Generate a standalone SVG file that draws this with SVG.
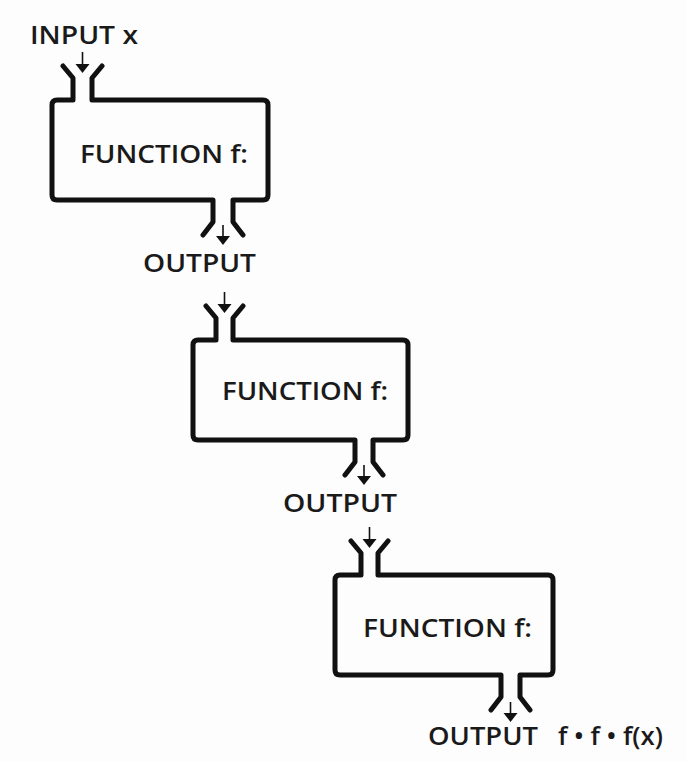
<svg xmlns="http://www.w3.org/2000/svg" width="687" height="762" viewBox="0 0 687 762">
<style>
.box{fill:none;stroke:#111;stroke-width:5;stroke-linejoin:round;stroke-linecap:round}
.shaft{stroke:#111;stroke-width:1.6;fill:none}
.head{fill:#111}
.t{font-family:"Open Sans","Noto Sans","DejaVu Sans",sans-serif;font-weight:600;fill:#1a1a1a;font-size:26px}
</style>
<rect width="687" height="762" fill="#fdfdfd"/>
<g id="input">
<text class="t" x="30" y="44" textLength="108" lengthAdjust="spacingAndGlyphs">INPUT x</text>
</g>
<g id="f1">
<path class="box" d="M63,66 L73,78 L73,100 H57 Q52,100 52,105 V195 Q52,200 57,200 H213 V222 L203,235 M243,235 L233,222 V200 H263 Q268,200 268,195 V105 Q268,100 263,100 H92 V78 L102,66"/>
<text class="t" x="80" y="163" textLength="168" lengthAdjust="spacingAndGlyphs">FUNCTION f:</text>
</g>
<g id="out1">
<text class="t" x="143" y="272" textLength="113" lengthAdjust="spacingAndGlyphs">OUTPUT</text>
</g>
<g id="f2">
<path class="box" d="M206,306 L216,318 V340 H198 Q193,340 193,345 V435 Q193,440 198,440 H355 V462 L345,475 M383,475 L373,462 V440 H403 Q408,440 408,435 V345 Q408,340 403,340 H233 V318 L243,306"/>
<text class="t" x="222" y="400" textLength="166" lengthAdjust="spacingAndGlyphs">FUNCTION f:</text>
</g>
<g id="out2">
<text class="t" x="283" y="512" textLength="114" lengthAdjust="spacingAndGlyphs">OUTPUT</text>
</g>
<g id="f3">
<path class="box" d="M351,541 L361,553 V575 H340 Q335,575 335,580 V670 Q335,675 340,675 H501 V697 L491,710 M530,710 L520,697 V675 H548 Q553,675 553,670 V580 Q553,575 548,575 H378 V553 L388,541"/>
<text class="t" x="363" y="637" textLength="169" lengthAdjust="spacingAndGlyphs">FUNCTION f:</text>
</g>
<g id="out3">
<text class="t" x="428" y="745" textLength="110" lengthAdjust="spacingAndGlyphs">OUTPUT</text>
<text class="t" x="558" y="745" textLength="105" lengthAdjust="spacingAndGlyphs">f • f • f(x)</text>
</g>
<g id="connectors">
<line class="shaft" x1="82.5" y1="52" x2="82.5" y2="65"/>
<polygon class="head" points="75.5,64 89.5,64 82.5,73"/>
<line class="shaft" x1="223" y1="225" x2="223" y2="237"/>
<polygon class="head" points="216,236 230,236 223,245"/>
<line class="shaft" x1="224.5" y1="292" x2="224.5" y2="305"/>
<polygon class="head" points="217.5,304 231.5,304 224.5,313"/>
<line class="shaft" x1="364" y1="465" x2="364" y2="477"/>
<polygon class="head" points="357,476 371,476 364,485"/>
<line class="shaft" x1="369.5" y1="527" x2="369.5" y2="540"/>
<polygon class="head" points="362.5,539 376.5,539 369.5,548"/>
<line class="shaft" x1="510.5" y1="702" x2="510.5" y2="714"/>
<polygon class="head" points="503.5,713 517.5,713 510.5,722"/>
</g>
</svg>
